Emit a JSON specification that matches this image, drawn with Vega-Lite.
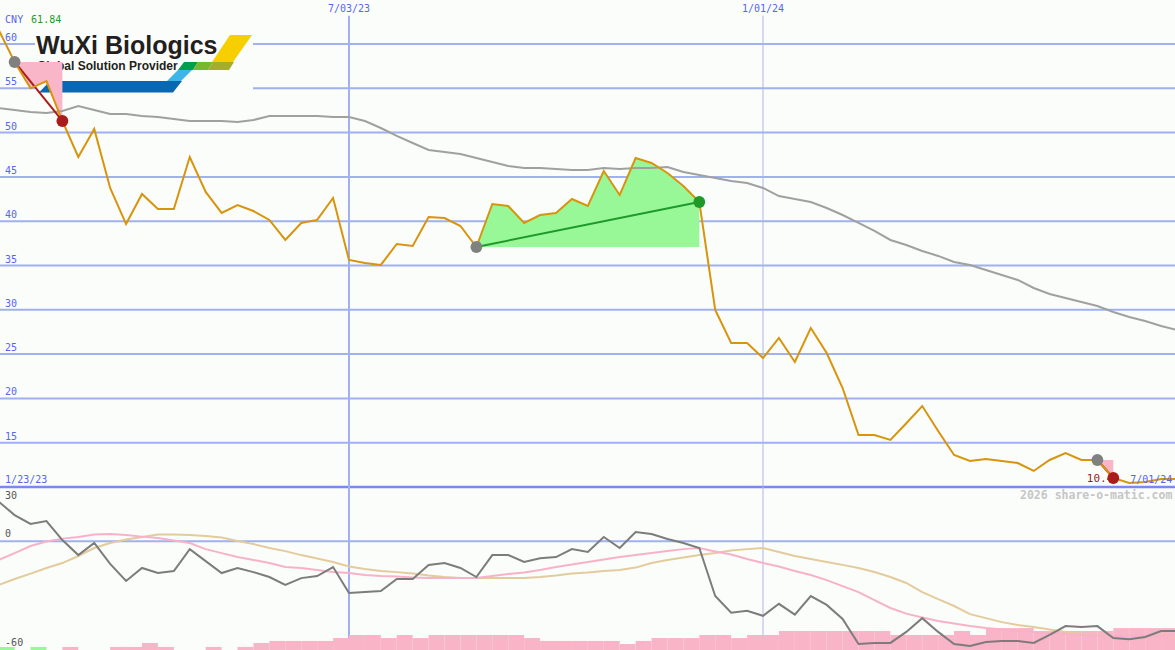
{
  "$schema": "https://vega.github.io/schema/vega-lite/v6.json",
  "width": 1175,
  "height": 650,
  "autosize": "none",
  "padding": 0,
  "background": "#fbfdfb",
  "config": {"view": {"stroke": null}},
  "resolve": {"scale": {"y": "independent", "color": "independent"}},
  "datasets": {
    "w": [
      {"d":"2023-01-23","p":62.5,"ma":52.89,"m":28.0,"s":-13.6,"l":-26.2},
      {"d":"2023-01-30","p":61.6,"ma":52.78,"m":21.9,"s":-10.3,"l":-24.1},
      {"d":"2023-02-06","p":57.97,"ma":52.55,"m":14.5,"s":-6.5,"l":-20.8},
      {"d":"2023-02-13","p":55.0,"ma":52.33,"m":9.6,"s":-2.6,"l":-17.8},
      {"d":"2023-02-20","p":55.82,"ma":52.21,"m":11.2,"s":-0.1,"l":-14.7},
      {"d":"2023-02-27","p":51.31,"ma":52.44,"m":0.7,"s":1.5,"l":-12.0},
      {"d":"2023-03-06","p":47.25,"ma":53.0,"m":-7.6,"s":2.4,"l":-8.1},
      {"d":"2023-03-13","p":50.41,"ma":52.55,"m":-0.9,"s":3.8,"l":-3.7},
      {"d":"2023-03-20","p":43.75,"ma":52.1,"m":-12.5,"s":4.0,"l":-0.9},
      {"d":"2023-03-27","p":39.68,"ma":52.1,"m":-21.9,"s":3.5,"l":1.0},
      {"d":"2023-04-03","p":43.07,"ma":51.87,"m":-14.7,"s":2.6,"l":2.4},
      {"d":"2023-04-10","p":41.38,"ma":51.76,"m":-17.5,"s":1.8,"l":3.8},
      {"d":"2023-04-17","p":41.38,"ma":51.53,"m":-16.4,"s":0.4,"l":3.8},
      {"d":"2023-04-24","p":47.25,"ma":51.31,"m":-4.3,"s":-0.9,"l":3.5},
      {"d":"2023-05-01","p":43.3,"ma":51.31,"m":-10.9,"s":-4.3,"l":2.9},
      {"d":"2023-05-08","p":40.93,"ma":51.31,"m":-17.5,"s":-6.5,"l":2.1},
      {"d":"2023-05-15","p":41.83,"ma":51.2,"m":-14.7,"s":-8.7,"l":0.2},
      {"d":"2023-05-22","p":41.15,"ma":51.42,"m":-17.0,"s":-10.3,"l":-1.5},
      {"d":"2023-05-29","p":40.14,"ma":51.87,"m":-19.7,"s":-12.0,"l":-3.7},
      {"d":"2023-06-05","p":37.88,"ma":51.87,"m":-24.1,"s":-14.2,"l":-5.4},
      {"d":"2023-06-12","p":39.8,"ma":51.87,"m":-20.3,"s":-14.7,"l":-7.6},
      {"d":"2023-06-19","p":40.14,"ma":51.87,"m":-19.2,"s":-15.8,"l":-9.5},
      {"d":"2023-06-26","p":42.62,"ma":51.76,"m":-14.2,"s":-16.9,"l":-11.4},
      {"d":"2023-07-03","p":35.62,"ma":51.76,"m":-28.5,"s":-17.5,"l":-13.9},
      {"d":"2023-07-10","p":35.28,"ma":51.31,"m":-28.0,"s":-18.6,"l":-15.3},
      {"d":"2023-07-17","p":35.06,"ma":50.52,"m":-27.4,"s":-19.2,"l":-16.4},
      {"d":"2023-07-24","p":37.43,"ma":49.62,"m":-20.8,"s":-19.4,"l":-17.0},
      {"d":"2023-07-31","p":37.2,"ma":48.83,"m":-20.8,"s":-20.0,"l":-17.8},
      {"d":"2023-08-07","p":40.47,"ma":48.04,"m":-13.1,"s":-20.3,"l":-18.9},
      {"d":"2023-08-14","p":40.36,"ma":47.81,"m":-12.0,"s":-20.3,"l":-19.7},
      {"d":"2023-08-21","p":39.46,"ma":47.59,"m":-14.7,"s":-20.3,"l":-20.3},
      {"d":"2023-08-28","p":37.09,"ma":47.14,"m":-19.7,"s":-20.3,"l":-20.3},
      {"d":"2023-09-04","p":41.94,"ma":46.69,"m":-7.6,"s":-19.2,"l":-20.3},
      {"d":"2023-09-11","p":41.72,"ma":46.24,"m":-7.6,"s":-18.1,"l":-20.3},
      {"d":"2023-09-18","p":39.8,"ma":46.0,"m":-11.4,"s":-17.2,"l":-20.3},
      {"d":"2023-09-25","p":40.7,"ma":46.0,"m":-9.3,"s":-15.8,"l":-19.7},
      {"d":"2023-10-02","p":40.93,"ma":45.89,"m":-8.7,"s":-14.2,"l":-18.9},
      {"d":"2023-10-09","p":42.51,"ma":45.78,"m":-4.3,"s":-12.8,"l":-17.8},
      {"d":"2023-10-16","p":41.72,"ma":45.78,"m":-5.9,"s":-11.4,"l":-17.2},
      {"d":"2023-10-23","p":45.67,"ma":46.0,"m":2.4,"s":-10.0,"l":-16.4},
      {"d":"2023-10-30","p":42.96,"ma":45.89,"m":-3.7,"s":-8.7,"l":-15.8},
      {"d":"2023-11-06","p":47.13,"ma":46.0,"m":5.1,"s":-7.6,"l":-14.5},
      {"d":"2023-11-13","p":46.57,"ma":46.0,"m":4.0,"s":-6.5,"l":-12.0},
      {"d":"2023-11-20","p":45.44,"ma":46.12,"m":1.3,"s":-5.4,"l":-10.3},
      {"d":"2023-11-27","p":43.97,"ma":45.55,"m":-0.9,"s":-4.3,"l":-8.9},
      {"d":"2023-12-04","p":42.17,"ma":45.21,"m":-3.7,"s":-3.7,"l":-7.6},
      {"d":"2023-12-11","p":29.98,"ma":44.88,"m":-30.2,"s":-5.6,"l":-6.5},
      {"d":"2023-12-18","p":26.25,"ma":44.54,"m":-39.4,"s":-7.3,"l":-5.1},
      {"d":"2023-12-25","p":26.25,"ma":44.31,"m":-38.3,"s":-9.8,"l":-4.3},
      {"d":"2024-01-01","p":24.56,"ma":43.75,"m":-41.1,"s":-12.0,"l":-3.7},
      {"d":"2024-01-08","p":26.82,"ma":42.84,"m":-34.5,"s":-13.9,"l":-5.9},
      {"d":"2024-01-15","p":24.11,"ma":42.51,"m":-40.5,"s":-16.4,"l":-8.1},
      {"d":"2024-01-22","p":27.95,"ma":42.17,"m":-30.2,"s":-18.6,"l":-9.8},
      {"d":"2024-01-29","p":25.12,"ma":41.49,"m":-35.1,"s":-21.4,"l":-11.4},
      {"d":"2024-02-05","p":21.17,"ma":40.7,"m":-42.9,"s":-24.7,"l":-13.0},
      {"d":"2024-02-12","p":15.87,"ma":39.8,"m":-56.7,"s":-28.0,"l":-14.7},
      {"d":"2024-02-19","p":15.87,"ma":38.9,"m":-56.1,"s":-32.5,"l":-16.9},
      {"d":"2024-02-26","p":15.31,"ma":37.88,"m":-56.1,"s":-36.8,"l":-19.7},
      {"d":"2024-03-04","p":17.2,"ma":37.32,"m":-50.0,"s":-39.9,"l":-23.0},
      {"d":"2024-03-11","p":19.14,"ma":36.64,"m":-42.4,"s":-42.1,"l":-28.0},
      {"d":"2024-03-18","p":16.32,"ma":36.08,"m":-50.0,"s":-44.0,"l":-31.9},
      {"d":"2024-03-25","p":13.61,"ma":35.4,"m":-56.7,"s":-45.4,"l":-35.7},
      {"d":"2024-04-01","p":12.93,"ma":35.06,"m":-57.8,"s":-46.8,"l":-40.2},
      {"d":"2024-04-08","p":13.16,"ma":34.49,"m":-55.6,"s":-47.9,"l":-42.4},
      {"d":"2024-04-15","p":12.93,"ma":33.93,"m":-55.0,"s":-48.7,"l":-44.6},
      {"d":"2024-04-22","p":12.71,"ma":33.37,"m":-55.0,"s":-49.5,"l":-46.2},
      {"d":"2024-04-29","p":11.81,"ma":32.46,"m":-56.1,"s":-50.1,"l":-47.3},
      {"d":"2024-05-06","p":13.05,"ma":31.78,"m":-51.7,"s":-50.6,"l":-48.7},
      {"d":"2024-05-13","p":13.84,"ma":31.33,"m":-46.8,"s":-51.2,"l":-50.1},
      {"d":"2024-05-20","p":13.05,"ma":30.88,"m":-47.3,"s":-51.7,"l":-51.2},
      {"d":"2024-05-27","p":13.05,"ma":30.42,"m":-46.8,"s":-52.0,"l":-51.7},
      {"d":"2024-06-03","p":11.02,"ma":29.75,"m":-53.4,"s":-52.3,"l":-52.3},
      {"d":"2024-06-10","p":10.45,"ma":29.19,"m":-54.0,"s":-52.3,"l":-52.8},
      {"d":"2024-06-17","p":10.56,"ma":28.74,"m":-52.8,"s":-52.3,"l":-52.6},
      {"d":"2024-06-24","p":10.9,"ma":28.17,"m":-49.5,"s":-52.0,"l":-51.7},
      {"d":"2024-07-01","p":10.9,"ma":27.72,"m":-49.5,"s":-51.7,"l":-51.2}
    ],
    "bars": [
      {"d":"2023-01-30","e":"2023-02-06","v":-58.3,"c":"up"},
      {"d":"2023-02-13","e":"2023-02-20","v":-58.3,"c":"up"},
      {"d":"2023-02-27","e":"2023-03-06","v":-58.3,"c":"dn"},
      {"d":"2023-03-20","e":"2023-03-27","v":-58.3,"c":"dn"},
      {"d":"2023-03-27","e":"2023-04-03","v":-58.3,"c":"dn"},
      {"d":"2023-04-03","e":"2023-04-10","v":-56.1,"c":"dn"},
      {"d":"2023-04-10","e":"2023-04-17","v":-58.3,"c":"dn"},
      {"d":"2023-05-01","e":"2023-05-08","v":-58.3,"c":"dn"},
      {"d":"2023-05-15","e":"2023-05-22","v":-58.3,"c":"dn"},
      {"d":"2023-05-22","e":"2023-05-29","v":-56.1,"c":"dn"},
      {"d":"2023-05-29","e":"2023-06-05","v":-55.0,"c":"dn"},
      {"d":"2023-06-05","e":"2023-06-12","v":-55.0,"c":"dn"},
      {"d":"2023-06-12","e":"2023-06-19","v":-55.0,"c":"dn"},
      {"d":"2023-06-19","e":"2023-06-26","v":-55.0,"c":"dn"},
      {"d":"2023-06-26","e":"2023-07-03","v":-53.4,"c":"dn"},
      {"d":"2023-07-03","e":"2023-07-10","v":-51.7,"c":"dn"},
      {"d":"2023-07-10","e":"2023-07-17","v":-51.7,"c":"dn"},
      {"d":"2023-07-17","e":"2023-07-24","v":-53.4,"c":"dn"},
      {"d":"2023-07-24","e":"2023-07-31","v":-51.7,"c":"dn"},
      {"d":"2023-07-31","e":"2023-08-07","v":-53.4,"c":"dn"},
      {"d":"2023-08-07","e":"2023-08-14","v":-51.7,"c":"dn"},
      {"d":"2023-08-14","e":"2023-08-21","v":-51.7,"c":"dn"},
      {"d":"2023-08-21","e":"2023-08-28","v":-51.7,"c":"dn"},
      {"d":"2023-08-28","e":"2023-09-04","v":-51.7,"c":"dn"},
      {"d":"2023-09-04","e":"2023-09-11","v":-51.7,"c":"dn"},
      {"d":"2023-09-11","e":"2023-09-18","v":-51.7,"c":"dn"},
      {"d":"2023-09-18","e":"2023-09-25","v":-53.4,"c":"dn"},
      {"d":"2023-09-25","e":"2023-10-02","v":-55.0,"c":"dn"},
      {"d":"2023-10-02","e":"2023-10-09","v":-55.0,"c":"dn"},
      {"d":"2023-10-09","e":"2023-10-16","v":-55.0,"c":"dn"},
      {"d":"2023-10-16","e":"2023-10-23","v":-55.0,"c":"dn"},
      {"d":"2023-10-23","e":"2023-10-30","v":-55.0,"c":"dn"},
      {"d":"2023-10-30","e":"2023-11-06","v":-56.7,"c":"dn"},
      {"d":"2023-11-06","e":"2023-11-13","v":-55.0,"c":"dn"},
      {"d":"2023-11-13","e":"2023-11-20","v":-53.4,"c":"dn"},
      {"d":"2023-11-20","e":"2023-11-27","v":-53.4,"c":"dn"},
      {"d":"2023-11-27","e":"2023-12-04","v":-53.4,"c":"dn"},
      {"d":"2023-12-04","e":"2023-12-11","v":-51.7,"c":"dn"},
      {"d":"2023-12-11","e":"2023-12-18","v":-51.7,"c":"dn"},
      {"d":"2023-12-18","e":"2023-12-25","v":-53.4,"c":"dn"},
      {"d":"2023-12-25","e":"2024-01-01","v":-51.7,"c":"dn"},
      {"d":"2024-01-01","e":"2024-01-08","v":-51.7,"c":"dn"},
      {"d":"2024-01-08","e":"2024-01-15","v":-49.5,"c":"dn"},
      {"d":"2024-01-15","e":"2024-01-22","v":-49.5,"c":"dn"},
      {"d":"2024-01-22","e":"2024-01-29","v":-49.5,"c":"dn"},
      {"d":"2024-01-29","e":"2024-02-05","v":-49.5,"c":"dn"},
      {"d":"2024-02-05","e":"2024-02-12","v":-49.5,"c":"dn"},
      {"d":"2024-02-12","e":"2024-02-19","v":-49.5,"c":"dn"},
      {"d":"2024-02-19","e":"2024-02-26","v":-49.5,"c":"dn"},
      {"d":"2024-02-26","e":"2024-03-04","v":-51.7,"c":"dn"},
      {"d":"2024-03-04","e":"2024-03-11","v":-51.7,"c":"dn"},
      {"d":"2024-03-11","e":"2024-03-18","v":-51.7,"c":"dn"},
      {"d":"2024-03-18","e":"2024-03-25","v":-51.7,"c":"dn"},
      {"d":"2024-03-25","e":"2024-04-01","v":-49.5,"c":"dn"},
      {"d":"2024-04-01","e":"2024-04-08","v":-51.7,"c":"dn"},
      {"d":"2024-04-08","e":"2024-04-15","v":-47.9,"c":"dn"},
      {"d":"2024-04-15","e":"2024-04-22","v":-47.9,"c":"dn"},
      {"d":"2024-04-22","e":"2024-04-29","v":-47.9,"c":"dn"},
      {"d":"2024-04-29","e":"2024-05-06","v":-49.5,"c":"dn"},
      {"d":"2024-05-06","e":"2024-05-13","v":-49.5,"c":"dn"},
      {"d":"2024-05-13","e":"2024-05-20","v":-49.5,"c":"dn"},
      {"d":"2024-05-20","e":"2024-05-27","v":-49.5,"c":"dn"},
      {"d":"2024-05-27","e":"2024-06-03","v":-49.5,"c":"dn"},
      {"d":"2024-06-03","e":"2024-06-10","v":-47.9,"c":"dn"},
      {"d":"2024-06-10","e":"2024-06-17","v":-47.9,"c":"dn"},
      {"d":"2024-06-17","e":"2024-06-24","v":-47.9,"c":"dn"},
      {"d":"2024-06-24","e":"2024-07-01","v":-47.9,"c":"dn"},
      {"d":"2024-07-01","e":"2024-07-08","v":-47.9,"c":"dn"}
    ],
    "ta": [
      {"t":1,"r":"loss","d":"2023-02-06","p":57.97,"b":57.97},
      {"t":1,"r":"loss","d":"2023-02-13","p":55.0,"b":57.97},
      {"t":1,"r":"loss","d":"2023-02-20","p":55.82,"b":57.97},
      {"t":1,"r":"loss","d":"2023-02-27","p":51.31,"b":57.97},
      {"t":2,"r":"win","d":"2023-08-28","p":37.09,"b":37.09},
      {"t":2,"r":"win","d":"2023-09-04","p":41.94,"b":37.09},
      {"t":2,"r":"win","d":"2023-09-11","p":41.72,"b":37.09},
      {"t":2,"r":"win","d":"2023-09-18","p":39.8,"b":37.09},
      {"t":2,"r":"win","d":"2023-09-25","p":40.7,"b":37.09},
      {"t":2,"r":"win","d":"2023-10-02","p":40.93,"b":37.09},
      {"t":2,"r":"win","d":"2023-10-09","p":42.51,"b":37.09},
      {"t":2,"r":"win","d":"2023-10-16","p":41.72,"b":37.09},
      {"t":2,"r":"win","d":"2023-10-23","p":45.67,"b":37.09},
      {"t":2,"r":"win","d":"2023-10-30","p":42.96,"b":37.09},
      {"t":2,"r":"win","d":"2023-11-06","p":47.13,"b":37.09},
      {"t":2,"r":"win","d":"2023-11-13","p":46.57,"b":37.09},
      {"t":2,"r":"win","d":"2023-11-20","p":45.44,"b":37.09},
      {"t":2,"r":"win","d":"2023-11-27","p":43.97,"b":37.09},
      {"t":2,"r":"win","d":"2023-12-04","p":42.17,"b":37.09},
      {"t":3,"r":"loss","d":"2024-05-27","p":13.05,"b":13.05},
      {"t":3,"r":"loss","d":"2024-06-03","p":11.02,"b":13.05}
    ],
    "tl": [
      {"t":1,"r":"loss","d":"2023-02-06","v":57.97},
      {"t":1,"r":"loss","d":"2023-02-27","v":51.31},
      {"t":2,"r":"win","d":"2023-08-28","v":37.09},
      {"t":2,"r":"win","d":"2023-12-04","v":42.17},
      {"t":3,"r":"loss","d":"2024-05-27","v":13.05},
      {"t":3,"r":"loss","d":"2024-06-03","v":11.02}
    ],
    "sig": [
      {"d":"2023-02-06","v":57.97,"k":"entry"},
      {"d":"2023-02-27","v":51.31,"k":"loss"},
      {"d":"2023-08-28","v":37.09,"k":"entry"},
      {"d":"2023-12-04","v":42.17,"k":"win"},
      {"d":"2024-05-27","v":13.05,"k":"entry"},
      {"d":"2024-06-03","v":11.02,"k":"loss"}
    ],
    "hg": [{"v":15,"txt":"15"},{"v":20,"txt":"20"},{"v":25,"txt":"25"},{"v":30,"txt":"30"},{"v":35,"txt":"35"},{"v":40,"txt":"40"},{"v":45,"txt":"45"},{"v":50,"txt":"50"},{"v":55,"txt":"55"},{"v":60,"txt":"60"}],
    "logo": [
      {"k":"blue","d":"2023-03-20T03:42:00Z","v":55.175},
      {"k":"lightblue","d":"2023-04-19T11:41:00Z","v":56.445},
      {"k":"green","d":"2023-04-23T05:23:00Z","v":57.517},
      {"k":"lime","d":"2023-04-29T19:38:00Z","v":57.517},
      {"k":"olive","d":"2023-05-07T17:33:00Z","v":57.517},
      {"k":"yellow","d":"2023-05-12T13:35:00Z","v":59.492},
      {"k":"title","d":"2023-02-15T09:40:00Z","v":58.871,"txt":"WuXi Biologics"},
      {"k":"sub","d":"2023-02-15T20:14:00Z","v":57.065,"txt":"Global Solution Provider"}
    ]
  },
  "layer": [
    {
      "data": {"name": "hg"},
      "mark": {"type": "rule", "color": "#a0b0f0", "strokeWidth": 2},
      "encoding": {"y": {"field": "v", "type": "quantitative", "scale": {"domain": [-8.397, 64.966], "nice": false, "zero": false}, "axis": null}}
    },
    {
      "data": {"values": [{"v": 10}]},
      "mark": {"type": "rule", "color": "#7a88f0", "strokeWidth": 2.5},
      "encoding": {"y": {"field": "v", "type": "quantitative", "scale": {"domain": [-8.397, 64.966], "nice": false, "zero": false}, "axis": null}}
    },
    {
      "data": {"values": [{"v": 0}]},
      "mark": {"type": "rule", "color": "#a0b0f0", "strokeWidth": 2},
      "encoding": {"y": {"field": "v", "type": "quantitative", "scale": {"domain": [-60, 298.9], "nice": false, "zero": false}, "axis": null}}
    },
    {
      "data": {"values": [{"d": "2023-07-03", "top": 63.2, "bot": -8.397}]},
      "mark": {"type": "rule", "color": "#a0b0f0", "strokeWidth": 2},
      "encoding": {
        "x": {"field": "d", "type": "temporal", "scale": {"domain": [{"year":2023,"month":1,"date":30,"hours":13,"minutes":48,"utc":true},{"year":2024,"month":6,"date":30,"hours":2,"minutes":53,"utc":true}], "nice": false}, "axis": null},
        "y": {"field": "top", "type": "quantitative", "scale": {"domain": [-8.397, 64.966], "nice": false, "zero": false}, "axis": null},
        "y2": {"field": "bot"}
      }
    },
    {
      "data": {"values": [{"d": "2024-01-01", "top": 63.2, "bot": -8.397}]},
      "mark": {"type": "rule", "color": "#adb6e6", "strokeWidth": 1},
      "encoding": {
        "x": {"field": "d", "type": "temporal", "scale": {"domain": [{"year":2023,"month":1,"date":30,"hours":13,"minutes":48,"utc":true},{"year":2024,"month":6,"date":30,"hours":2,"minutes":53,"utc":true}], "nice": false}, "axis": null},
        "y": {"field": "top", "type": "quantitative", "scale": {"domain": [-8.397, 64.966], "nice": false, "zero": false}, "axis": null},
        "y2": {"field": "bot"}
      }
    },
    {
      "data": {"values": [{"d": "2023-02-14T23:07:00Z", "e": "2023-05-21T19:12:00Z", "v": 61.806, "v2": 54.244}]},
      "mark": {"type": "rect", "color": "#fbfdfb"},
      "encoding": {
        "x": {"field": "d", "type": "temporal", "scale": {"domain": [{"year":2023,"month":1,"date":30,"hours":13,"minutes":48,"utc":true},{"year":2024,"month":6,"date":30,"hours":2,"minutes":53,"utc":true}], "nice": false}, "axis": null},
        "x2": {"field": "e"},
        "y": {"field": "v", "type": "quantitative", "scale": {"domain": [-8.397, 64.966], "nice": false, "zero": false}, "axis": null},
        "y2": {"field": "v2"}
      }
    },
    {
      "data": {"name": "logo"},
      "transform": [{"filter": "datum.k == 'blue'"}],
      "mark": {"type": "point", "shape": "M-6.05,-0.575L7.15,-0.575L6.25,0.575L-7.15,0.575Z", "size": 400, "filled": true, "color": "#0a67b2", "opacity": 1, "strokeWidth": 0},
      "encoding": {
        "x": {"field": "d", "type": "temporal", "scale": {"domain": [{"year":2023,"month":1,"date":30,"hours":13,"minutes":48,"utc":true},{"year":2024,"month":6,"date":30,"hours":2,"minutes":53,"utc":true}], "nice": false}, "axis": null},
        "y": {"field": "v", "type": "quantitative", "scale": {"domain": [-8.397, 64.966], "nice": false, "zero": false}, "axis": null}
      }
    },
    {
      "data": {"name": "logo"},
      "transform": [{"filter": "datum.k == 'lightblue'"}],
      "mark": {"type": "point", "shape": "M-0.15,-0.55L1.25,-0.55L0.15,0.55L-1.25,0.55Z", "size": 400, "filled": true, "color": "#3db5e8", "opacity": 1, "strokeWidth": 0},
      "encoding": {
        "x": {"field": "d", "type": "temporal", "scale": {"domain": [{"year":2023,"month":1,"date":30,"hours":13,"minutes":48,"utc":true},{"year":2024,"month":6,"date":30,"hours":2,"minutes":53,"utc":true}], "nice": false}, "axis": null},
        "y": {"field": "v", "type": "quantitative", "scale": {"domain": [-8.397, 64.966], "nice": false, "zero": false}, "axis": null}
      }
    },
    {
      "data": {"name": "logo"},
      "transform": [{"filter": "datum.k == 'green'"}],
      "mark": {"type": "point", "shape": "M-0.4,-0.4L1,-0.4L0.5,0.4L-1,0.4Z", "size": 400, "filled": true, "color": "#00a04a", "opacity": 1, "strokeWidth": 0},
      "encoding": {
        "x": {"field": "d", "type": "temporal", "scale": {"domain": [{"year":2023,"month":1,"date":30,"hours":13,"minutes":48,"utc":true},{"year":2024,"month":6,"date":30,"hours":2,"minutes":53,"utc":true}], "nice": false}, "axis": null},
        "y": {"field": "v", "type": "quantitative", "scale": {"domain": [-8.397, 64.966], "nice": false, "zero": false}, "axis": null}
      }
    },
    {
      "data": {"name": "logo"},
      "transform": [{"filter": "datum.k == 'lime'"}],
      "mark": {"type": "point", "shape": "M-0.5,-0.4L1,-0.4L0.5,0.4L-1,0.4Z", "size": 400, "filled": true, "color": "#78b82a", "opacity": 1, "strokeWidth": 0},
      "encoding": {
        "x": {"field": "d", "type": "temporal", "scale": {"domain": [{"year":2023,"month":1,"date":30,"hours":13,"minutes":48,"utc":true},{"year":2024,"month":6,"date":30,"hours":2,"minutes":53,"utc":true}], "nice": false}, "axis": null},
        "y": {"field": "v", "type": "quantitative", "scale": {"domain": [-8.397, 64.966], "nice": false, "zero": false}, "axis": null}
      }
    },
    {
      "data": {"name": "logo"},
      "transform": [{"filter": "datum.k == 'olive'"}],
      "mark": {"type": "point", "shape": "M-0.8,-0.4L1.3,-0.4L0.8,0.4L-1.3,0.4Z", "size": 400, "filled": true, "color": "#a4ae2a", "opacity": 1, "strokeWidth": 0},
      "encoding": {
        "x": {"field": "d", "type": "temporal", "scale": {"domain": [{"year":2023,"month":1,"date":30,"hours":13,"minutes":48,"utc":true},{"year":2024,"month":6,"date":30,"hours":2,"minutes":53,"utc":true}], "nice": false}, "axis": null},
        "y": {"field": "v", "type": "quantitative", "scale": {"domain": [-8.397, 64.966], "nice": false, "zero": false}, "axis": null}
      }
    },
    {
      "data": {"name": "logo"},
      "transform": [{"filter": "datum.k == 'yellow'"}],
      "mark": {"type": "point", "shape": "M-0.2,-1.35L2,-1.35L0.1,1.35L-2,1.35Z", "size": 400, "filled": true, "color": "#f7cf00", "opacity": 1, "strokeWidth": 0},
      "encoding": {
        "x": {"field": "d", "type": "temporal", "scale": {"domain": [{"year":2023,"month":1,"date":30,"hours":13,"minutes":48,"utc":true},{"year":2024,"month":6,"date":30,"hours":2,"minutes":53,"utc":true}], "nice": false}, "axis": null},
        "y": {"field": "v", "type": "quantitative", "scale": {"domain": [-8.397, 64.966], "nice": false, "zero": false}, "axis": null}
      }
    },
    {
      "data": {"name": "logo"},
      "transform": [{"filter": "datum.k == 'title'"}],
      "mark": {"type": "text", "align": "left", "baseline": "alphabetic", "font": "Liberation Sans", "fontWeight": "bold", "fontSize": 25, "color": "#231f20"},
      "encoding": {
        "x": {"field": "d", "type": "temporal", "scale": {"domain": [{"year":2023,"month":1,"date":30,"hours":13,"minutes":48,"utc":true},{"year":2024,"month":6,"date":30,"hours":2,"minutes":53,"utc":true}], "nice": false}, "axis": null},
        "y": {"field": "v", "type": "quantitative", "scale": {"domain": [-8.397, 64.966], "nice": false, "zero": false}, "axis": null},
        "text": {"field": "txt"}
      }
    },
    {
      "data": {"name": "logo"},
      "transform": [{"filter": "datum.k == 'sub'"}],
      "mark": {"type": "text", "align": "left", "baseline": "alphabetic", "font": "Liberation Sans", "fontWeight": "bold", "fontSize": 12, "color": "#231f20"},
      "encoding": {
        "x": {"field": "d", "type": "temporal", "scale": {"domain": [{"year":2023,"month":1,"date":30,"hours":13,"minutes":48,"utc":true},{"year":2024,"month":6,"date":30,"hours":2,"minutes":53,"utc":true}], "nice": false}, "axis": null},
        "y": {"field": "v", "type": "quantitative", "scale": {"domain": [-8.397, 64.966], "nice": false, "zero": false}, "axis": null},
        "text": {"field": "txt"}
      }
    },
    {
      "data": {"name": "ta"},
      "mark": {"type": "area", "opacity": 1, "clip": true},
      "encoding": {
        "x": {"field": "d", "type": "temporal", "scale": {"domain": [{"year":2023,"month":1,"date":30,"hours":13,"minutes":48,"utc":true},{"year":2024,"month":6,"date":30,"hours":2,"minutes":53,"utc":true}], "nice": false}, "axis": null},
        "y": {"field": "p", "type": "quantitative", "stack": null, "scale": {"domain": [-8.397, 64.966], "nice": false, "zero": false}, "axis": null},
        "y2": {"field": "b"},
        "detail": {"field": "t", "type": "nominal"},
        "color": {"field": "r", "type": "nominal", "scale": {"domain": ["loss", "win"], "range": ["#f9b6c9", "#98f898"]}, "legend": null}
      }
    },
    {
      "data": {"name": "w"},
      "mark": {"type": "line", "color": "#a0a0a0", "strokeWidth": 2, "clip": true},
      "encoding": {
        "x": {"field": "d", "type": "temporal", "scale": {"domain": [{"year":2023,"month":1,"date":30,"hours":13,"minutes":48,"utc":true},{"year":2024,"month":6,"date":30,"hours":2,"minutes":53,"utc":true}], "nice": false}, "axis": null},
        "y": {"field": "ma", "type": "quantitative", "scale": {"domain": [-8.397, 64.966], "nice": false, "zero": false}, "axis": null}
      }
    },
    {
      "data": {"name": "bars"},
      "mark": {"type": "rect", "clip": true},
      "encoding": {
        "x": {"field": "d", "type": "temporal", "scale": {"domain": [{"year":2023,"month":1,"date":30,"hours":13,"minutes":48,"utc":true},{"year":2024,"month":6,"date":30,"hours":2,"minutes":53,"utc":true}], "nice": false}, "axis": null},
        "x2": {"field": "e"},
        "y": {"field": "v", "type": "quantitative", "scale": {"domain": [-60, 298.9], "nice": false, "zero": false}, "axis": null},
        "y2": {"datum": -60},
        "color": {"field": "c", "type": "nominal", "scale": {"domain": ["up", "dn"], "range": ["#98f898", "#f9b4c8"]}, "legend": null}
      }
    },
    {
      "data": {"name": "w"},
      "mark": {"type": "line", "color": "#e3cb9c", "strokeWidth": 2, "clip": true},
      "encoding": {
        "x": {"field": "d", "type": "temporal", "scale": {"domain": [{"year":2023,"month":1,"date":30,"hours":13,"minutes":48,"utc":true},{"year":2024,"month":6,"date":30,"hours":2,"minutes":53,"utc":true}], "nice": false}, "axis": null},
        "y": {"field": "l", "type": "quantitative", "scale": {"domain": [-60, 298.9], "nice": false, "zero": false}, "axis": null}
      }
    },
    {
      "data": {"name": "w"},
      "mark": {"type": "line", "color": "#f7b2c9", "strokeWidth": 2, "clip": true},
      "encoding": {
        "x": {"field": "d", "type": "temporal", "scale": {"domain": [{"year":2023,"month":1,"date":30,"hours":13,"minutes":48,"utc":true},{"year":2024,"month":6,"date":30,"hours":2,"minutes":53,"utc":true}], "nice": false}, "axis": null},
        "y": {"field": "s", "type": "quantitative", "scale": {"domain": [-60, 298.9], "nice": false, "zero": false}, "axis": null}
      }
    },
    {
      "data": {"name": "w"},
      "mark": {"type": "line", "color": "#7c7c7c", "strokeWidth": 2, "clip": true},
      "encoding": {
        "x": {"field": "d", "type": "temporal", "scale": {"domain": [{"year":2023,"month":1,"date":30,"hours":13,"minutes":48,"utc":true},{"year":2024,"month":6,"date":30,"hours":2,"minutes":53,"utc":true}], "nice": false}, "axis": null},
        "y": {"field": "m", "type": "quantitative", "scale": {"domain": [-60, 298.9], "nice": false, "zero": false}, "axis": null}
      }
    },
    {
      "data": {"name": "tl"},
      "mark": {"type": "line", "strokeWidth": 2, "clip": true},
      "encoding": {
        "x": {"field": "d", "type": "temporal", "scale": {"domain": [{"year":2023,"month":1,"date":30,"hours":13,"minutes":48,"utc":true},{"year":2024,"month":6,"date":30,"hours":2,"minutes":53,"utc":true}], "nice": false}, "axis": null},
        "y": {"field": "v", "type": "quantitative", "scale": {"domain": [-8.397, 64.966], "nice": false, "zero": false}, "axis": null},
        "detail": {"field": "t", "type": "nominal"},
        "color": {"field": "r", "type": "nominal", "scale": {"domain": ["loss", "win"], "range": ["#a81c1c", "#1f9a2a"]}, "legend": null}
      }
    },
    {
      "data": {"name": "w"},
      "mark": {"type": "line", "color": "#d8940c", "strokeWidth": 2, "clip": true},
      "encoding": {
        "x": {"field": "d", "type": "temporal", "scale": {"domain": [{"year":2023,"month":1,"date":30,"hours":13,"minutes":48,"utc":true},{"year":2024,"month":6,"date":30,"hours":2,"minutes":53,"utc":true}], "nice": false}, "axis": null},
        "y": {"field": "p", "type": "quantitative", "scale": {"domain": [-8.397, 64.966], "nice": false, "zero": false}, "axis": null}
      }
    },
    {
      "data": {"values": [{"d": "2024-06-03", "v": 11.02, "txt": "10.4"}]},
      "mark": {"type": "text", "align": "right", "baseline": "middle", "dy": 1, "font": "DejaVu Sans Mono", "fontSize": 11, "color": "#a01818"},
      "encoding": {
        "x": {"field": "d", "type": "temporal", "scale": {"domain": [{"year":2023,"month":1,"date":30,"hours":13,"minutes":48,"utc":true},{"year":2024,"month":6,"date":30,"hours":2,"minutes":53,"utc":true}], "nice": false}, "axis": null},
        "y": {"field": "v", "type": "quantitative", "scale": {"domain": [-8.397, 64.966], "nice": false, "zero": false}, "axis": null},
        "text": {"field": "txt"}
      }
    },
    {
      "data": {"name": "sig"},
      "mark": {"type": "circle", "size": 140, "opacity": 1},
      "encoding": {
        "x": {"field": "d", "type": "temporal", "scale": {"domain": [{"year":2023,"month":1,"date":30,"hours":13,"minutes":48,"utc":true},{"year":2024,"month":6,"date":30,"hours":2,"minutes":53,"utc":true}], "nice": false}, "axis": null},
        "y": {"field": "v", "type": "quantitative", "scale": {"domain": [-8.397, 64.966], "nice": false, "zero": false}, "axis": null},
        "color": {"field": "k", "type": "nominal", "scale": {"domain": ["entry", "loss", "win"], "range": ["#808080", "#aa1c1c", "#1f9a2a"]}, "legend": null}
      }
    },
    {
      "data": {"name": "hg"},
      "mark": {"type": "text", "align": "left", "baseline": "bottom", "dx": 3, "dy": -1, "font": "DejaVu Sans Mono", "fontSize": 10, "color": "#5566ee"},
      "encoding": {
        "x": {"datum": {"year":2023,"month":1,"date":31,"hours":12,"utc":true}, "type": "temporal", "scale": {"domain": [{"year":2023,"month":1,"date":30,"hours":13,"minutes":48,"utc":true},{"year":2024,"month":6,"date":30,"hours":2,"minutes":53,"utc":true}], "nice": false}, "axis": null},
        "y": {"field": "v", "type": "quantitative", "scale": {"domain": [-8.397, 64.966], "nice": false, "zero": false}, "axis": null},
        "text": {"field": "txt"}
      }
    },
    {
      "data": {"values": [{"d": "2023-01-31T12:00:00Z", "v": 61.9, "txt": "CNY"}, {"d": "2023-01-31T12:00:00Z", "v": 10, "txt": "1/23/23"}]},
      "mark": {"type": "text", "align": "left", "baseline": "bottom", "dx": 3, "dy": -2, "font": "DejaVu Sans Mono", "fontSize": 10, "color": "#5566ee"},
      "encoding": {
        "x": {"field": "d", "type": "temporal", "scale": {"domain": [{"year":2023,"month":1,"date":30,"hours":13,"minutes":48,"utc":true},{"year":2024,"month":6,"date":30,"hours":2,"minutes":53,"utc":true}], "nice": false}, "axis": null},
        "y": {"field": "v", "type": "quantitative", "scale": {"domain": [-8.397, 64.966], "nice": false, "zero": false}, "axis": null},
        "text": {"field": "txt"}
      }
    },
    {
      "data": {"values": [{"d": "2023-01-31T12:00:00Z", "v": 61.9, "txt": "61.84"}]},
      "mark": {"type": "text", "align": "left", "baseline": "bottom", "dx": 29, "dy": -2, "font": "DejaVu Sans Mono", "fontSize": 10, "color": "#1f9a2a"},
      "encoding": {
        "x": {"field": "d", "type": "temporal", "scale": {"domain": [{"year":2023,"month":1,"date":30,"hours":13,"minutes":48,"utc":true},{"year":2024,"month":6,"date":30,"hours":2,"minutes":53,"utc":true}], "nice": false}, "axis": null},
        "y": {"field": "v", "type": "quantitative", "scale": {"domain": [-8.397, 64.966], "nice": false, "zero": false}, "axis": null},
        "text": {"field": "txt"}
      }
    },
    {
      "data": {"values": [{"d": "2024-06-29T20:00:00Z", "v": 10, "txt": "7/01/24"}]},
      "mark": {"type": "text", "align": "right", "baseline": "bottom", "dx": -2, "dy": -2, "font": "DejaVu Sans Mono", "fontSize": 10, "color": "#5566ee"},
      "encoding": {
        "x": {"field": "d", "type": "temporal", "scale": {"domain": [{"year":2023,"month":1,"date":30,"hours":13,"minutes":48,"utc":true},{"year":2024,"month":6,"date":30,"hours":2,"minutes":53,"utc":true}], "nice": false}, "axis": null},
        "y": {"field": "v", "type": "quantitative", "scale": {"domain": [-8.397, 64.966], "nice": false, "zero": false}, "axis": null},
        "text": {"field": "txt"}
      }
    },
    {
      "data": {"values": [{"d": "2024-06-29T20:00:00Z", "v": 8.984, "txt": "2026 share-o-matic.com"}]},
      "mark": {"type": "text", "align": "right", "baseline": "middle", "dx": -2, "font": "DejaVu Sans Mono", "fontSize": 11.5, "fontWeight": "bold", "color": "#c6c6c6"},
      "encoding": {
        "x": {"field": "d", "type": "temporal", "scale": {"domain": [{"year":2023,"month":1,"date":30,"hours":13,"minutes":48,"utc":true},{"year":2024,"month":6,"date":30,"hours":2,"minutes":53,"utc":true}], "nice": false}, "axis": null},
        "y": {"field": "v", "type": "quantitative", "scale": {"domain": [-8.397, 64.966], "nice": false, "zero": false}, "axis": null},
        "text": {"field": "txt"}
      }
    },
    {
      "data": {"values": [{"d": "2023-07-03", "v": 64.0, "txt": "7/03/23"}, {"d": "2024-01-01", "v": 64.0, "txt": "1/01/24"}]},
      "mark": {"type": "text", "align": "center", "baseline": "middle", "font": "DejaVu Sans Mono", "fontSize": 10, "color": "#5566ee"},
      "encoding": {
        "x": {"field": "d", "type": "temporal", "scale": {"domain": [{"year":2023,"month":1,"date":30,"hours":13,"minutes":48,"utc":true},{"year":2024,"month":6,"date":30,"hours":2,"minutes":53,"utc":true}], "nice": false}, "axis": null},
        "y": {"field": "v", "type": "quantitative", "scale": {"domain": [-8.397, 64.966], "nice": false, "zero": false}, "axis": null},
        "text": {"field": "txt"}
      }
    },
    {
      "data": {"values": [{"d": "2023-01-31T12:00:00Z", "v": 30, "txt": "30"}]},
      "mark": {"type": "text", "align": "left", "baseline": "top", "dx": 3, "dy": 4, "font": "DejaVu Sans Mono", "fontSize": 10, "color": "#555555"},
      "encoding": {
        "x": {"field": "d", "type": "temporal", "scale": {"domain": [{"year":2023,"month":1,"date":30,"hours":13,"minutes":48,"utc":true},{"year":2024,"month":6,"date":30,"hours":2,"minutes":53,"utc":true}], "nice": false}, "axis": null},
        "y": {"field": "v", "type": "quantitative", "scale": {"domain": [-60, 298.9], "nice": false, "zero": false}, "axis": null},
        "text": {"field": "txt"}
      }
    },
    {
      "data": {"values": [{"d": "2023-01-31T12:00:00Z", "v": 0, "txt": "0"}, {"d": "2023-01-31T12:00:00Z", "v": -60, "txt": "-60"}]},
      "mark": {"type": "text", "align": "left", "baseline": "bottom", "dx": 3, "dy": -2, "font": "DejaVu Sans Mono", "fontSize": 10, "color": "#555555"},
      "encoding": {
        "x": {"field": "d", "type": "temporal", "scale": {"domain": [{"year":2023,"month":1,"date":30,"hours":13,"minutes":48,"utc":true},{"year":2024,"month":6,"date":30,"hours":2,"minutes":53,"utc":true}], "nice": false}, "axis": null},
        "y": {"field": "v", "type": "quantitative", "scale": {"domain": [-60, 298.9], "nice": false, "zero": false}, "axis": null},
        "text": {"field": "txt"}
      }
    }
  ]
}
